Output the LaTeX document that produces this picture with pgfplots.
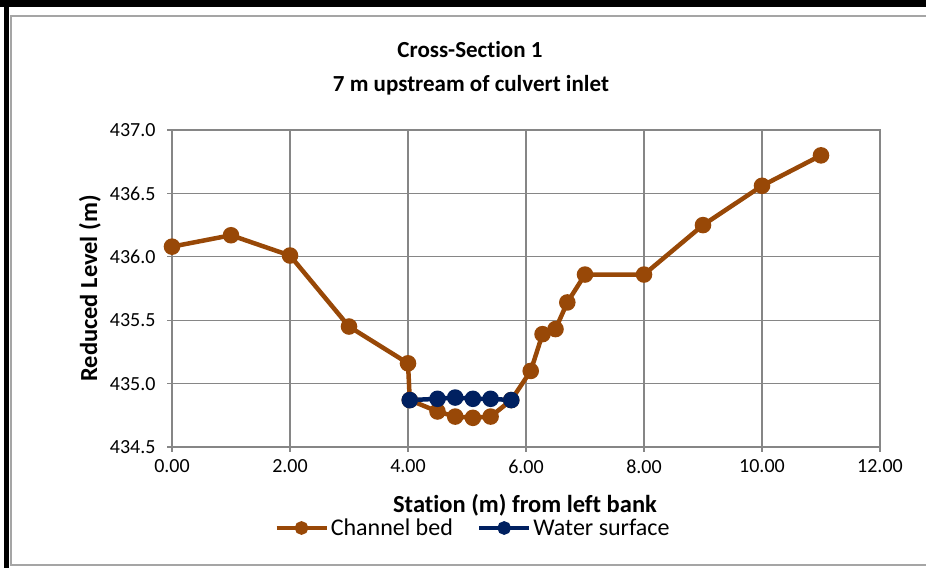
\documentclass[border=0pt]{standalone}
\usepackage{fontspec}
\setmainfont{Carlito}[Ligatures=NoCommon]
\usepackage{pgfplots}
\pgfplotsset{compat=1.18}

\definecolor{bed}{RGB}{152,72,7}
\definecolor{water}{RGB}{0,32,96}
\definecolor{gridgray}{RGB}{134,134,134}
\definecolor{framegray}{RGB}{165,165,165}

\begin{document}
\begin{tikzpicture}
  % outer frame of the sheet
  \fill[black] (0pt,561pt) rectangle (926pt,568pt);
  \fill[black] (4pt,0pt) rectangle (9pt,568pt);
  \draw[framegray, line width=1.6pt] (926pt,3pt) -- (11pt,3pt) -- (11pt,552pt) -- (926pt,552pt);

  % title
  \node[anchor=base, font=\fontsize{23}{26}\selectfont\bfseries] at (470pt,510pt) {Cross-Section 1};
  \node[anchor=base, font=\fontsize{23}{26}\selectfont\bfseries] at (471pt,476pt) {7 m upstream of culvert inlet};

  \begin{axis}[
    at={(172pt,121pt)}, anchor=south west,
    scale only axis, width=708pt, height=317pt,
    xmin=0, xmax=12, ymin=434.5, ymax=437,
    xtick={0,2,...,12},
    ytick={434.5,435,435.5,436,436.5,437},
    grid=major,
    grid style={gridgray, line width=1.3pt},
    axis line style={gridgray, line width=1.3pt},
    tick pos=left, tick align=outside,
    major tick length=5pt,
    tick style={gridgray, line width=1.3pt},
    /pgf/number format/assume math mode=true,
    xticklabel style={yshift=-4pt, /pgf/number format/.cd, fixed, fixed zerofill, precision=2},
    yticklabel style={xshift=-8pt, /pgf/number format/.cd, fixed, fixed zerofill, precision=1},
    ticklabel style={font=\fontsize{20}{22}\selectfont, text=black},
    xlabel={Station (m) from left bank},
    ylabel={Reduced Level (m)},
    label style={font=\fontsize{24.5}{28}\selectfont\bfseries},
    xlabel style={at={(axis description cs:0.4986,-0.183)}, anchor=center},
    ylabel style={at={(axis description cs:-0.116,0.5)}, anchor=center},
    legend columns=2,
    legend style={at={(axis description cs:0.425,-0.2555)}, anchor=center,
      draw=none, fill=none, font=\fontsize{24}{28}\selectfont,
      /tikz/every even column/.append style={column sep=22pt}},
    legend image code/.code={
      \draw[#1, mark repeat=2, mark phase=2, mark size=4.5pt]
        plot coordinates {(0pt,0pt) (25pt,0pt) (50pt,0pt)};},
  ]
    % channel bed survey
    \addplot[bed, line width=4.5pt, mark=*, mark size=6pt, mark options={solid}]
      coordinates {
        (0,436.08) (1,436.17) (2,436.01) (3,435.45) (4,435.16)
        (4.03,434.87) (4.5,434.78) (4.8,434.74) (5.1,434.73) (5.4,434.74)
        (5.75,434.87) (6.08,435.10) (6.28,435.39) (6.5,435.43) (6.7,435.64)
        (7,435.86) (8,435.86) (9,436.25) (10,436.56) (11,436.80)
      };
    \addlegendentry{Channel bed}

    % water surface
    \addplot[water, line width=4.5pt, mark=*, mark size=6pt, mark options={solid}]
      coordinates {
        (4.03,434.87) (4.5,434.88) (4.8,434.89) (5.1,434.88) (5.4,434.88) (5.75,434.87)
      };
    \addlegendentry{Water surface}
  \end{axis}

  \pgfresetboundingbox
  \path (0pt,0pt) rectangle (926pt,568pt);
\end{tikzpicture}
\end{document}
